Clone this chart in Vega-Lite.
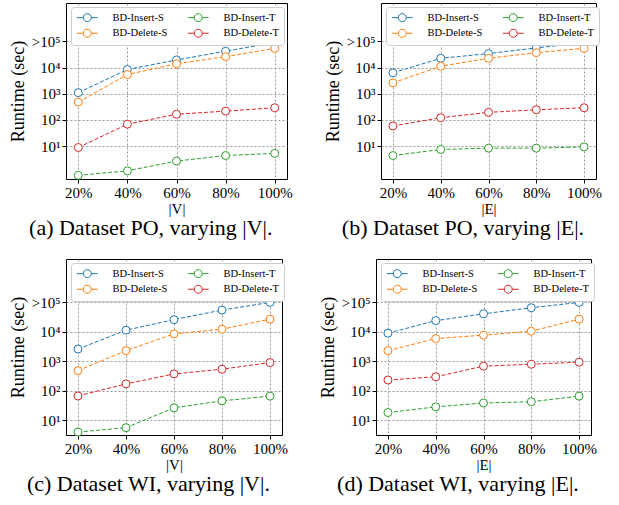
{
  "$schema": "https://vega.github.io/schema/vega-lite/v6.json",
  "padding": {"left": 8, "top": 2, "right": 5, "bottom": 5},
  "datasets": {
    "runs": [
      {"panel": "a", "pct": 20, "series": "BD-Insert-S", "runtime": 1100},
      {"panel": "a", "pct": 40, "series": "BD-Insert-S", "runtime": 8400},
      {"panel": "a", "pct": 60, "series": "BD-Insert-S", "runtime": 19500},
      {"panel": "a", "pct": 80, "series": "BD-Insert-S", "runtime": 42000},
      {"panel": "a", "pct": 100, "series": "BD-Insert-S", "runtime": 90000},
      {"panel": "a", "pct": 20, "series": "BD-Delete-S", "runtime": 480},
      {"panel": "a", "pct": 40, "series": "BD-Delete-S", "runtime": 5400},
      {"panel": "a", "pct": 60, "series": "BD-Delete-S", "runtime": 14000},
      {"panel": "a", "pct": 80, "series": "BD-Delete-S", "runtime": 26000},
      {"panel": "a", "pct": 100, "series": "BD-Delete-S", "runtime": 54000},
      {"panel": "a", "pct": 20, "series": "BD-Insert-T", "runtime": 0.77},
      {"panel": "a", "pct": 40, "series": "BD-Insert-T", "runtime": 1.15},
      {"panel": "a", "pct": 60, "series": "BD-Insert-T", "runtime": 2.7},
      {"panel": "a", "pct": 80, "series": "BD-Insert-T", "runtime": 4.4},
      {"panel": "a", "pct": 100, "series": "BD-Insert-T", "runtime": 5.3},
      {"panel": "a", "pct": 20, "series": "BD-Delete-T", "runtime": 8.9},
      {"panel": "a", "pct": 40, "series": "BD-Delete-T", "runtime": 69},
      {"panel": "a", "pct": 60, "series": "BD-Delete-T", "runtime": 165},
      {"panel": "a", "pct": 80, "series": "BD-Delete-T", "runtime": 218},
      {"panel": "a", "pct": 100, "series": "BD-Delete-T", "runtime": 293},

      {"panel": "b", "pct": 20, "series": "BD-Insert-S", "runtime": 6300},
      {"panel": "b", "pct": 40, "series": "BD-Insert-S", "runtime": 22500},
      {"panel": "b", "pct": 60, "series": "BD-Insert-S", "runtime": 34000},
      {"panel": "b", "pct": 80, "series": "BD-Insert-S", "runtime": 56000},
      {"panel": "b", "pct": 100, "series": "BD-Insert-S", "runtime": 90000},
      {"panel": "b", "pct": 20, "series": "BD-Delete-S", "runtime": 2600},
      {"panel": "b", "pct": 40, "series": "BD-Delete-S", "runtime": 11200},
      {"panel": "b", "pct": 60, "series": "BD-Delete-S", "runtime": 22500},
      {"panel": "b", "pct": 80, "series": "BD-Delete-S", "runtime": 37000},
      {"panel": "b", "pct": 100, "series": "BD-Delete-S", "runtime": 54000},
      {"panel": "b", "pct": 20, "series": "BD-Insert-T", "runtime": 4.4},
      {"panel": "b", "pct": 40, "series": "BD-Insert-T", "runtime": 7.5},
      {"panel": "b", "pct": 60, "series": "BD-Insert-T", "runtime": 8.4},
      {"panel": "b", "pct": 80, "series": "BD-Insert-T", "runtime": 8.4},
      {"panel": "b", "pct": 100, "series": "BD-Insert-T", "runtime": 9.4},
      {"panel": "b", "pct": 20, "series": "BD-Delete-T", "runtime": 59},
      {"panel": "b", "pct": 40, "series": "BD-Delete-T", "runtime": 122},
      {"panel": "b", "pct": 60, "series": "BD-Delete-T", "runtime": 195},
      {"panel": "b", "pct": 80, "series": "BD-Delete-T", "runtime": 245},
      {"panel": "b", "pct": 100, "series": "BD-Delete-T", "runtime": 293},

      {"panel": "c", "pct": 20, "series": "BD-Insert-S", "runtime": 2600},
      {"panel": "c", "pct": 40, "series": "BD-Insert-S", "runtime": 11400},
      {"panel": "c", "pct": 60, "series": "BD-Insert-S", "runtime": 26000},
      {"panel": "c", "pct": 80, "series": "BD-Insert-S", "runtime": 55000},
      {"panel": "c", "pct": 100, "series": "BD-Insert-S", "runtime": 100000},
      {"panel": "c", "pct": 20, "series": "BD-Delete-S", "runtime": 480},
      {"panel": "c", "pct": 40, "series": "BD-Delete-S", "runtime": 2300},
      {"panel": "c", "pct": 60, "series": "BD-Delete-S", "runtime": 8500},
      {"panel": "c", "pct": 80, "series": "BD-Delete-S", "runtime": 12300},
      {"panel": "c", "pct": 100, "series": "BD-Delete-S", "runtime": 27000},
      {"panel": "c", "pct": 20, "series": "BD-Insert-T", "runtime": 3.9},
      {"panel": "c", "pct": 40, "series": "BD-Insert-T", "runtime": 5.5},
      {"panel": "c", "pct": 60, "series": "BD-Insert-T", "runtime": 26},
      {"panel": "c", "pct": 80, "series": "BD-Insert-T", "runtime": 45},
      {"panel": "c", "pct": 100, "series": "BD-Insert-T", "runtime": 65},
      {"panel": "c", "pct": 20, "series": "BD-Delete-T", "runtime": 66},
      {"panel": "c", "pct": 40, "series": "BD-Delete-T", "runtime": 170},
      {"panel": "c", "pct": 60, "series": "BD-Delete-T", "runtime": 370},
      {"panel": "c", "pct": 80, "series": "BD-Delete-T", "runtime": 535},
      {"panel": "c", "pct": 100, "series": "BD-Delete-T", "runtime": 900},

      {"panel": "d", "pct": 20, "series": "BD-Insert-S", "runtime": 9000},
      {"panel": "d", "pct": 40, "series": "BD-Insert-S", "runtime": 24000},
      {"panel": "d", "pct": 60, "series": "BD-Insert-S", "runtime": 41000},
      {"panel": "d", "pct": 80, "series": "BD-Insert-S", "runtime": 66000},
      {"panel": "d", "pct": 100, "series": "BD-Insert-S", "runtime": 100000},
      {"panel": "d", "pct": 20, "series": "BD-Delete-S", "runtime": 2300},
      {"panel": "d", "pct": 40, "series": "BD-Delete-S", "runtime": 5900},
      {"panel": "d", "pct": 60, "series": "BD-Delete-S", "runtime": 7700},
      {"panel": "d", "pct": 80, "series": "BD-Delete-S", "runtime": 10500},
      {"panel": "d", "pct": 100, "series": "BD-Delete-S", "runtime": 27000},
      {"panel": "d", "pct": 20, "series": "BD-Insert-T", "runtime": 18},
      {"panel": "d", "pct": 40, "series": "BD-Insert-T", "runtime": 28},
      {"panel": "d", "pct": 60, "series": "BD-Insert-T", "runtime": 38},
      {"panel": "d", "pct": 80, "series": "BD-Insert-T", "runtime": 42},
      {"panel": "d", "pct": 100, "series": "BD-Insert-T", "runtime": 65},
      {"panel": "d", "pct": 20, "series": "BD-Delete-T", "runtime": 230},
      {"panel": "d", "pct": 40, "series": "BD-Delete-T", "runtime": 295},
      {"panel": "d", "pct": 60, "series": "BD-Delete-T", "runtime": 680},
      {"panel": "d", "pct": 80, "series": "BD-Delete-T", "runtime": 790},
      {"panel": "d", "pct": 100, "series": "BD-Delete-T", "runtime": 930}
    ]
  },
  "data": {"name": "runs"},
  "config": {
    "font": "Liberation Serif",
    "view": {"stroke": "black", "strokeWidth": 1},
    "axis": {
      "labelFont": "Liberation Serif", "titleFont": "Liberation Serif",
      "labelFontSize": 15, "titleFontSize": 15, "titleFontWeight": "normal",
      "labelColor": "black", "titleColor": "black",
      "domain": false, "tickColor": "black", "tickSize": 4, "labelPadding": 2,
      "grid": true, "gridColor": "#9a9a9a", "gridDash": [2, 2], "gridWidth": 1
    },
    "axisX": {"titlePadding": 1},
    "axisY": {"titleFontSize": 18, "titlePadding": 4, "labelFlush": false},
    "title": {"font": "Liberation Serif", "fontSize": 22, "fontWeight": "normal", "color": "black", "orient": "bottom", "anchor": "middle", "frame": "bounds", "offset": 2},
    "legend": {
      "orient": "none", "legendX": 5, "legendY": 4, "columns": 2, "title": null,
      "symbolType": "M-2.6,0H-1M1,0H2.6M1,0A1,1,0,1,1,-1,0A1,1,0,1,1,1,0",
      "symbolSize": 64, "symbolStrokeWidth": 1, "symbolFillColor": "white", "symbolOffset": 6,
      "labelFont": "Liberation Serif", "labelFontSize": 10.5, "labelColor": "black", "labelOffset": 20,
      "columnPadding": 17, "rowPadding": 3, "padding": 5,
      "fillColor": "white", "strokeColor": "#cccccc", "cornerRadius": 3
    }
  },
  "resolve": {"scale": {"color": "independent"}, "legend": {"color": "independent"}},
  "spacing": 18,
  "vconcat": [
    {
      "resolve": {"scale": {"color": "independent"}, "legend": {"color": "independent"}},
      "spacing": 30,
      "hconcat": [
        {
          "width": 221, "height": 176,
          "title": "(a) Dataset PO, varying |V|.",
          "transform": [{"filter": "datum.panel === 'a'"}],
          "encoding": {
            "x": {"field": "pct", "type": "quantitative", "scale": {"domain": [15, 105], "nice": false, "zero": false}, "axis": {"values": [20, 40, 60, 80, 100], "labelExpr": "datum.value + '%'", "title": "|V|"}},
            "y": {"field": "runtime", "type": "quantitative", "scale": {"type": "log", "domain": [0.56, 2900000], "nice": false}, "axis": {"values": [10, 100, 1000, 10000, 100000], "labelExpr": "datum.value == 100000 ? '>10⁵' : datum.value == 10000 ? '10⁴' : datum.value == 1000 ? '10³' : datum.value == 100 ? '10²' : '10¹'", "title": "Runtime (sec)"}},
            "color": {"field": "series", "type": "nominal", "scale": {"domain": ["BD-Insert-S", "BD-Delete-S", "BD-Insert-T", "BD-Delete-T"], "range": ["#1f77b4", "#ff7f0e", "#2ca02c", "#d62728"]}, "legend": {"labelFont": "Liberation Serif"}}
          },
          "layer": [
            {"mark": {"type": "line", "strokeDash": [4, 2], "strokeWidth": 1}},
            {"mark": {"type": "point", "shape": "circle", "filled": false, "fill": "white", "size": 64, "strokeWidth": 1, "opacity": 1}}
          ]
        },
        {
          "width": 215, "height": 176,
          "title": "(b) Dataset PO, varying |E|.",
          "transform": [{"filter": "datum.panel === 'b'"}],
          "encoding": {
            "x": {"field": "pct", "type": "quantitative", "scale": {"domain": [15, 105], "nice": false, "zero": false}, "axis": {"values": [20, 40, 60, 80, 100], "labelExpr": "datum.value + '%'", "title": "|E|"}},
            "y": {"field": "runtime", "type": "quantitative", "scale": {"type": "log", "domain": [0.56, 2900000], "nice": false}, "axis": {"values": [10, 100, 1000, 10000, 100000], "labelExpr": "datum.value == 100000 ? '>10⁵' : datum.value == 10000 ? '10⁴' : datum.value == 1000 ? '10³' : datum.value == 100 ? '10²' : '10¹'", "title": "Runtime (sec)"}},
            "color": {"field": "series", "type": "nominal", "scale": {"domain": ["BD-Insert-S", "BD-Delete-S", "BD-Insert-T", "BD-Delete-T"], "range": ["#1f77b4", "#ff7f0e", "#2ca02c", "#d62728"]}, "legend": {"labelFont": "Liberation Serif"}}
          },
          "layer": [
            {"mark": {"type": "line", "strokeDash": [4, 2], "strokeWidth": 1}},
            {"mark": {"type": "point", "shape": "circle", "filled": false, "fill": "white", "size": 64, "strokeWidth": 1, "opacity": 1}}
          ]
        }
      ]
    },
    {
      "resolve": {"scale": {"color": "independent"}, "legend": {"color": "independent"}},
      "spacing": 30,
      "hconcat": [
        {
          "width": 216, "height": 176,
          "title": "(c) Dataset WI, varying |V|.",
          "transform": [{"filter": "datum.panel === 'c'"}],
          "encoding": {
            "x": {"field": "pct", "type": "quantitative", "scale": {"domain": [15, 105], "nice": false, "zero": false}, "axis": {"values": [20, 40, 60, 80, 100], "labelExpr": "datum.value + '%'", "title": "|V|"}},
            "y": {"field": "runtime", "type": "quantitative", "scale": {"type": "log", "domain": [3.1, 3000000], "nice": false}, "axis": {"values": [10, 100, 1000, 10000, 100000], "labelExpr": "datum.value == 100000 ? '>10⁵' : datum.value == 10000 ? '10⁴' : datum.value == 1000 ? '10³' : datum.value == 100 ? '10²' : '10¹'", "title": "Runtime (sec)"}},
            "color": {"field": "series", "type": "nominal", "scale": {"domain": ["BD-Insert-S", "BD-Delete-S", "BD-Insert-T", "BD-Delete-T"], "range": ["#1f77b4", "#ff7f0e", "#2ca02c", "#d62728"]}, "legend": {"labelFont": "Liberation Serif"}}
          },
          "layer": [
            {"mark": {"type": "line", "strokeDash": [4, 2], "strokeWidth": 1}},
            {"mark": {"type": "point", "shape": "circle", "filled": false, "fill": "white", "size": 64, "strokeWidth": 1, "opacity": 1}}
          ]
        },
        {
          "width": 215, "height": 176,
          "title": "(d) Dataset WI, varying |E|.",
          "transform": [{"filter": "datum.panel === 'd'"}],
          "encoding": {
            "x": {"field": "pct", "type": "quantitative", "scale": {"domain": [15, 105], "nice": false, "zero": false}, "axis": {"values": [20, 40, 60, 80, 100], "labelExpr": "datum.value + '%'", "title": "|E|"}},
            "y": {"field": "runtime", "type": "quantitative", "scale": {"type": "log", "domain": [3.1, 3000000], "nice": false}, "axis": {"values": [10, 100, 1000, 10000, 100000], "labelExpr": "datum.value == 100000 ? '>10⁵' : datum.value == 10000 ? '10⁴' : datum.value == 1000 ? '10³' : datum.value == 100 ? '10²' : '10¹'", "title": "Runtime (sec)"}},
            "color": {"field": "series", "type": "nominal", "scale": {"domain": ["BD-Insert-S", "BD-Delete-S", "BD-Insert-T", "BD-Delete-T"], "range": ["#1f77b4", "#ff7f0e", "#2ca02c", "#d62728"]}, "legend": {"labelFont": "Liberation Serif"}}
          },
          "layer": [
            {"mark": {"type": "line", "strokeDash": [4, 2], "strokeWidth": 1}},
            {"mark": {"type": "point", "shape": "circle", "filled": false, "fill": "white", "size": 64, "strokeWidth": 1, "opacity": 1}}
          ]
        }
      ]
    }
  ]
}
